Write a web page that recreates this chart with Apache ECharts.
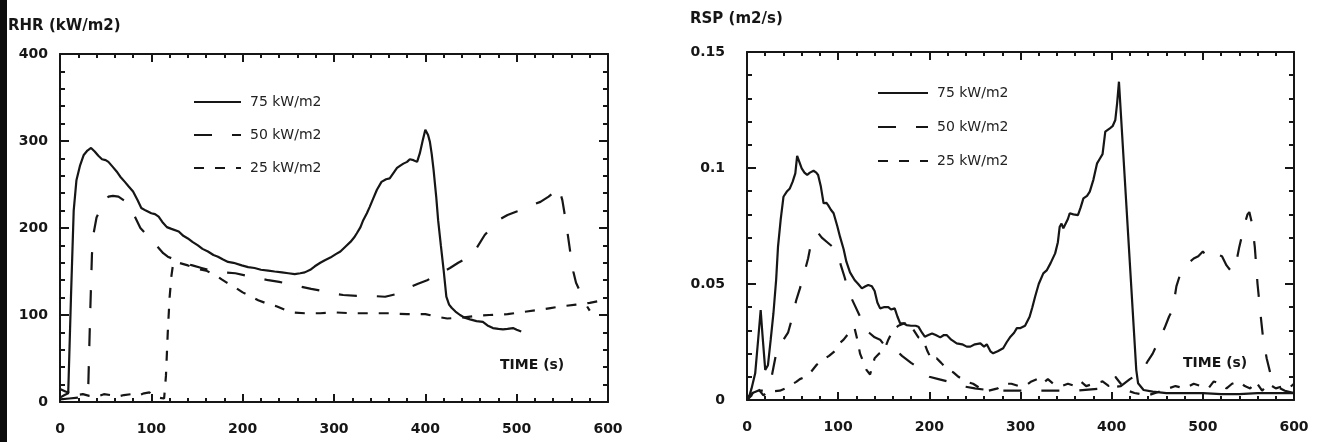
<!DOCTYPE html>
<html lang="en" style="width: 100%;height:100%">
    <head>
        <meta charset="UTF-8">
        <title>RHR / RSP</title>
        <script src="https://cdn.jsdelivr.net/npm/echarts@6.0.0/dist/echarts.min.js"></script>
    </head>

    <body style="width: 100%;height:100%;margin:0;background:#fff">
        <div id="chart" style="width: 1324px;height:442px"></div>
        <script>
            // [time s, value] pairs
            var seriesNames = ['75 kW/m2', '50 kW/m2', '25 kW/m2'];
            var xTicks = [0, 100, 200, 300, 400, 500, 600];

            // left panel: RHR (kW/m2)
            var rhr75 = [[0,5],[5,8],[9,10],[12,120],[15,220],[18,255],[22,272],[26,284],[30,289],[34,292],[38,288],[42,283],[46,279],[50,278],[53,276],[58,270],[62,265],[66,259],[71,253],[75,248],[80,242],[85,232],[89,223],[94,220],[100,217],[104,216],[108,213],[112,207],[117,201],[122,199],[130,196],[135,191],[140,188],[145,184],[151,180],[156,176],[162,173],[168,169],[173,167],[178,164],[184,161],[190,160],[199,157],[206,155],[213,154],[220,152],[228,151],[235,150],[243,149],[250,148],[257,147],[263,148],[268,149],[274,152],[279,156],[285,160],[290,163],[296,166],[302,170],[307,173],[313,179],[318,184],[322,189],[325,194],[329,201],[332,209],[336,217],[339,224],[343,234],[347,244],[352,253],[357,256],[361,257],[365,263],[369,269],[373,272],[376,274],[380,276],[383,279],[387,278],[391,276],[394,286],[397,300],[400,313],[403,307],[405,299],[407,285],[409,267],[412,235],[414,209],[417,180],[420,152],[423,121],[426,112],[429,108],[433,104],[438,100],[443,97],[449,95],[456,93],[463,92],[468,88],[474,85],[480,84],[485,83.5],[490,84],[496,85],[500,83],[505,81]];
            var rhr50 = [[0,3],[10,4],[20,5],[28,7],[31,20],[33,100],[35,170],[37,195],[40,212],[44,221],[49,232],[53,236],[58,237],[64,236],[71,231],[77,224],[82,213],[88,200],[95,192],[102,184],[108,177],[113,171],[118,167],[125,164],[135,160],[145,157],[155,154],[165,151],[178,149],[192,148],[205,145],[215,143],[228,140],[240,138],[250,136],[262,133],[275,130],[285,128],[297,125],[310,123],[325,122],[340,122],[356,121],[368,124],[381,131],[392,136],[402,140],[415,147],[427,154],[436,160],[445,165],[455,175],[465,192],[472,200],[480,209],[490,215],[500,219],[507,221],[516,226],[526,230],[535,236],[542,242],[546,247],[550,232],[553,213],[556,192],[559,170],[562,150],[565,137],[569,128],[574,115],[580,105]];
            var rhr25 = [[0,15],[6,12],[12,10],[18,8],[25,9],[32,7],[40,6],[48,9],[55,8],[62,6],[70,8],[78,9],[85,7],[92,10],[98,11],[102,7],[108,5],[114,4],[116,30],[118,80],[120,120],[122,145],[124,160],[130,160],[140,157],[150,153],[160,151],[170,146],[177,141],[183,137],[190,133],[200,126],[208,122],[217,117],[227,113],[237,110],[246,106],[255,103],[268,102],[285,102],[300,103],[320,102],[340,102],[360,102],[380,101],[400,101],[413,98],[424,96],[440,97],[455,99],[470,100],[490,101],[511,104],[525,106],[537,108],[550,110],[565,112],[580,114],[590,116],[600,117]];

            // right panel: RSP (m2/s)
            var rsp75 = [[0,0],[2,0.001],[5,0.005],[9,0.0115],[12,0.025],[15,0.0388],[17,0.028],[20,0.013],[23,0.015],[26,0.026],[29,0.0374],[32,0.052],[34,0.066],[37,0.078],[40,0.0876],[44,0.090],[47,0.0912],[50,0.094],[53,0.0977],[55,0.1052],[58,0.102],[60,0.0998],[63,0.098],[66,0.097],[69,0.098],[73,0.0988],[76,0.098],[78,0.097],[81,0.092],[84,0.0848],[87,0.085],[89,0.084],[92,0.082],[95,0.0805],[99,0.075],[102,0.0704],[106,0.065],[109,0.0596],[113,0.055],[118,0.0517],[122,0.050],[126,0.0481],[130,0.049],[133,0.0496],[137,0.049],[140,0.047],[143,0.042],[146,0.0395],[150,0.040],[155,0.040],[158,0.039],[162,0.0395],[165,0.036],[168,0.033],[172,0.033],[175,0.0323],[180,0.032],[185,0.032],[188,0.0316],[192,0.029],[195,0.0273],[199,0.028],[203,0.0287],[207,0.028],[212,0.027],[216,0.028],[219,0.028],[224,0.026],[230,0.0244],[236,0.024],[241,0.023],[245,0.023],[250,0.024],[256,0.0244],[260,0.023],[263,0.024],[267,0.021],[270,0.0201],[275,0.021],[281,0.0223],[285,0.025],[289,0.0273],[293,0.029],[296,0.031],[300,0.031],[305,0.032],[310,0.0359],[313,0.04],[316,0.0445],[320,0.050],[325,0.0546],[329,0.056],[333,0.059],[338,0.0632],[341,0.068],[343,0.0747],[345,0.076],[347,0.074],[349,0.074],[352,0.078],[354,0.0805],[358,0.080],[363,0.0797],[366,0.083],[369,0.0869],[373,0.088],[376,0.0898],[380,0.095],[384,0.102],[387,0.104],[390,0.106],[393,0.1157],[398,0.1171],[401,0.118],[404,0.1207],[406,0.128],[408,0.1372],[427,0.0129],[429,0.0072],[435,0.0043],[445,0.0036],[460,0.003],[480,0.003],[500,0.003],[520,0.0025],[540,0.0025],[560,0.003],[580,0.003],[600,0.003]];
            var rsp50 = [[0,0.001],[6,0.003],[12,0.004],[20,0.004],[26,0.008],[29,0.014],[32,0.02],[35,0.023],[40,0.026],[45,0.029],[50,0.036],[54,0.043],[58,0.048],[63,0.055],[67,0.061],[70,0.067],[74,0.071],[78,0.072],[82,0.070],[88,0.068],[94,0.066],[99,0.064],[103,0.058],[107,0.053],[112,0.046],[118,0.041],[124,0.036],[128,0.031],[134,0.029],[140,0.027],[146,0.026],[150,0.024],[156,0.0235],[162,0.022],[170,0.019],[180,0.016],[188,0.014],[194,0.011],[200,0.010],[210,0.009],[220,0.008],[228,0.007],[236,0.006],[250,0.005],[270,0.004],[300,0.004],[330,0.004],[360,0.004],[390,0.005],[410,0.006],[420,0.009],[428,0.011],[434,0.013],[440,0.017],[445,0.02],[452,0.026],[458,0.031],[463,0.036],[467,0.039],[471,0.049],[475,0.054],[478,0.057],[484,0.059],[490,0.061],[495,0.062],[500,0.064],[504,0.062],[508,0.064],[514,0.063],[521,0.062],[526,0.058],[532,0.055],[536,0.058],[540,0.066],[543,0.071],[546,0.076],[549,0.080],[551,0.081],[554,0.076],[557,0.066],[560,0.05],[563,0.038],[566,0.027],[570,0.018],[575,0.010],[580,0.006],[590,0.004],[600,0.003]];
            var rsp25 = [[0,0],[5,0.002],[10,0.006],[14,0.004],[18,0.002],[24,0.004],[30,0.0038],[36,0.004],[42,0.005],[48,0.0065],[54,0.0078],[58,0.009],[64,0.010],[70,0.012],[76,0.015],[82,0.017],[90,0.019],[96,0.021],[100,0.024],[106,0.026],[110,0.028],[114,0.030],[118,0.031],[121,0.026],[124,0.020],[127,0.017],[131,0.013],[135,0.011],[140,0.018],[145,0.020],[150,0.021],[155,0.026],[160,0.030],[166,0.032],[172,0.033],[178,0.033],[183,0.030],[188,0.027],[193,0.026],[198,0.021],[203,0.017],[208,0.018],[213,0.016],[220,0.013],[226,0.012],[232,0.010],[240,0.008],[248,0.007],[256,0.005],[265,0.004],[275,0.005],[282,0.007],[290,0.007],[298,0.006],[305,0.006],[312,0.008],[318,0.009],[324,0.007],[330,0.009],[336,0.007],[345,0.006],[352,0.007],[360,0.006],[366,0.008],[372,0.006],[380,0.007],[390,0.008],[397,0.006],[404,0.010],[410,0.007],[418,0.004],[425,0.003],[440,0.002],[455,0.004],[470,0.006],[480,0.005],[490,0.007],[498,0.006],[506,0.005],[512,0.008],[520,0.007],[526,0.005],[532,0.007],[540,0.008],[546,0.006],[552,0.005],[558,0.008],[565,0.004],[572,0.007],[580,0.005],[588,0.006],[594,0.005],[600,0.007]];

            var ink = '#161616';
            var dashes = ['solid', [18, 20], [10, 11]];

            function xAx(grid, pos) {
                return {
                    type: 'value', gridIndex: grid, position: pos,
                    min: xTicks[0], max: xTicks[xTicks.length - 1], interval: 100,
                    axisLine: {show: true, onZero: false, lineStyle: {color: ink, width: 2}},
                    axisTick: {show: true, inside: true, length: 8, lineStyle: {color: ink, width: 2}},
                    minorTick: {show: true, splitNumber: 5, length: 4, lineStyle: {color: ink, width: 2}},
                    axisLabel: {show: pos === 'bottom', margin: 20, color: ink,
                        fontFamily: 'DejaVu Sans', fontWeight: 'bold', fontSize: 14},
                    splitLine: {show: false}
                };
            }
            function yAx(grid, pos, max, step, margin) {
                return {
                    type: 'value', gridIndex: grid, position: pos,
                    min: 0, max: max, interval: step,
                    axisLine: {show: true, onZero: false, lineStyle: {color: ink, width: 2}},
                    axisTick: {show: true, inside: true, length: 9, lineStyle: {color: ink, width: 2}},
                    minorTick: {show: true, splitNumber: 5, length: 5, lineStyle: {color: ink, width: 2}},
                    axisLabel: {show: pos === 'left', margin: margin, color: ink,
                        fontFamily: 'DejaVu Sans', fontWeight: 'bold', fontSize: 14},
                    splitLine: {show: false}
                };
            }
            function line(name, data, k, grid) {
                return {
                    name: name, type: 'line', data: data,
                    xAxisIndex: grid * 2, yAxisIndex: grid * 2,
                    symbol: 'none', smooth: false, silent: true,
                    lineStyle: {color: ink, width: 2.2, type: dashes[k]},
                    itemStyle: {color: ink}
                };
            }
            function legendAt(left, top, w, gap) {
                return {
                    left: left, top: top, orient: 'vertical', padding: 0,
                    itemWidth: w, itemHeight: 14, itemGap: gap,
                    data: seriesNames,
                    itemStyle: {opacity: 0},
                    textStyle: {color: '#222', fontFamily: 'DejaVu Sans', fontSize: 14, padding: [0, 0, 0, 4]}
                };
            }
            function label(txt, x, y, size) {
                return {
                    type: 'text', left: x, top: y,
                    style: {text: txt, fill: ink, font: 'bold ' + size + 'px "DejaVu Sans"'}
                };
            }

            const myChart = echarts.init(document.getElementById('chart'));

            const option = {
                backgroundColor: '#fff',
                animation: false,
                grid: [
                    {left: 60, top: 54, width: 548, height: 348},
                    {left: 747, top: 52, width: 547, height: 348}
                ],
                xAxis: [xAx(0, 'bottom'), xAx(0, 'top'), xAx(1, 'bottom'), xAx(1, 'top')],
                yAxis: [yAx(0, 'left', 400, 100, 12), yAx(0, 'right', 400, 100, 12),
                        yAx(1, 'left', 0.15, 0.05, 22), yAx(1, 'right', 0.15, 0.05, 22)],
                legend: [legendAt(193, 95, 47, 19), legendAt(877, 86, 50, 20)],
                series: [
                    line(seriesNames[0], rhr75, 0, 0),
                    line(seriesNames[1], rhr50, 1, 0),
                    line(seriesNames[2], rhr25, 2, 0),
                    line(seriesNames[0], rsp75, 0, 1),
                    line(seriesNames[1], rsp50, 1, 1),
                    line(seriesNames[2], rsp25, 2, 1)
                ],
                graphic: [
                    {type: 'rect', left: 0, top: 0, shape: {width: 7, height: 442}, style: {fill: '#0c0c0c'}},
                    label('RHR (kW/m2)', 8, 19, 15),
                    label('RSP (m2/s)', 690, 12, 15),
                    label('TIME (s)', 500, 358, 14),
                    label('TIME (s)', 1183, 356, 14)
                ]
            };

            myChart.setOption(option);
        </script>
    </body>
</html>
